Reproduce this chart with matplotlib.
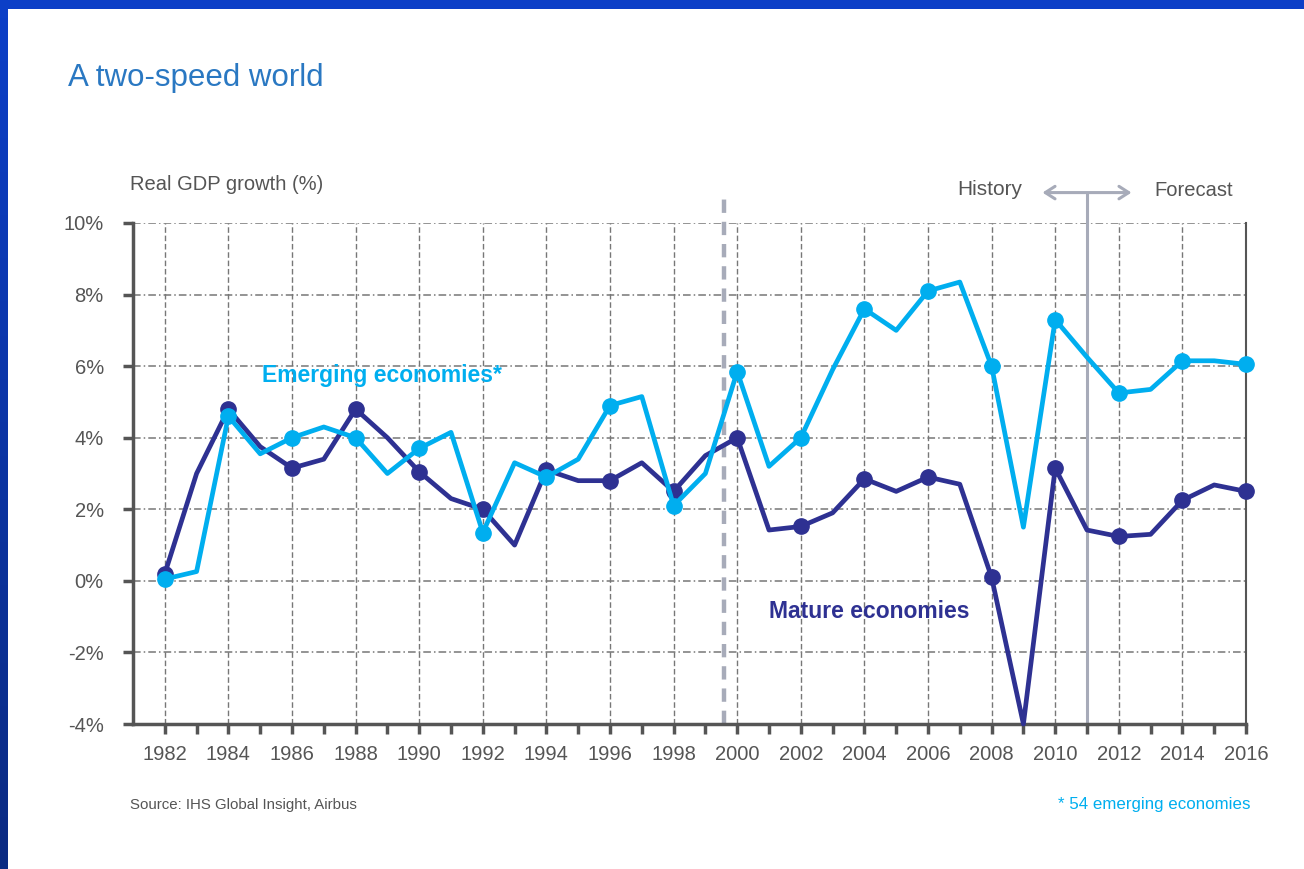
import numpy as np
import matplotlib
matplotlib.use('Agg')
import matplotlib.pyplot as plt
from matplotlib.patches import Rectangle


years = np.arange(1982, 2017)

mature = [0.2, 3.0, 4.8, 3.75, 3.15, 3.4, 4.8, 4.0, 3.05, 2.3, 2.0, 1.0,
          3.1, 2.8, 2.8, 3.3, 2.5, 3.5, 4.0, 1.42, 1.52, 1.9, 2.85, 2.5,
          2.9, 2.7, 0.1, -4.0, 3.15, 1.42, 1.24, 1.3, 2.25, 2.68, 2.5]

emerging = [0.05, 0.26, 4.6, 3.55, 4.0, 4.3, 4.0, 3.0, 3.7, 4.15, 1.35, 3.3,
            2.9, 3.4, 4.9, 5.15, 2.1, 3.0, 5.85, 3.2, 4.0, 5.9, 7.6, 7.0,
            8.1, 8.35, 6.0, 1.5, 7.3, 6.25, 5.25, 5.35, 6.15, 6.15, 6.05]

y_ticks = [-4, -2, 0, 2, 4, 6, 8, 10]
y_labels = ['-4%', '-2%', '0%', '2%', '4%', '6%', '8%', '10%']

navy = '#2e3192'
cyan = '#00aeef'
grey_line = '#a7abb9'
txt = '#555555'

plt.rcParams['font.family'] = ['Liberation Sans Narrow', 'Liberation Sans', 'DejaVu Sans']

fig = plt.figure(figsize=(13.04, 8.69), dpi=100)
fig.patch.set_facecolor('white')

# slide border (blue strip on top, gradient strip on the left)
fig.patches.append(Rectangle((0, 1 - 9/869), 1, 9/869, transform=fig.transFigure,
                             facecolor='#0c3fc7', edgecolor='none', zorder=0))
grad = np.linspace(0, 1, 100).reshape(-1, 1)
cax = fig.add_axes([0, 0, 8/1304, 1 - 9/869])
cax.imshow(grad, aspect='auto', cmap=matplotlib.colors.LinearSegmentedColormap.from_list(
    'b', ['#0c3fc7', '#0a2a82']), extent=[0, 1, 0, 1])
cax.axis('off')

ax = fig.add_axes([133/1304, (869-724)/869, (1246-133)/1304, (724-223)/869])
ax.set_xlim(1981, 2016)
ax.set_ylim(-4, 10)

# grid
for yy in y_ticks[1:]:
    ax.axhline(yy, color='#777777', lw=1.1, ls=(0, (5, 2, 1, 2)), zorder=1)
for xx in years[::2]:
    ax.axvline(xx, color='#777777', lw=1.0, ls=(0, (4, 2)), zorder=1)

# history / forecast separators
ax.plot([1999.6, 1999.6], [-4, 10.85], color=grey_line, lw=3.2, ls=(0, (3, 2)),
        clip_on=False, zorder=2)
ax.plot([2011, 2011], [-4, 10.85], color=grey_line, lw=2.2, clip_on=False, zorder=2)
ax.annotate('', xy=(2009.6, 10.85), xytext=(2012.4, 10.85),
            arrowprops=dict(arrowstyle='<->,head_length=0.7,head_width=0.45',
                            color=grey_line, lw=2.2, shrinkA=0, shrinkB=0),
            annotation_clip=False)
ax.text(2007.95, 10.95, 'History', fontsize=15, color=txt, ha='center', va='center')
ax.text(2014.35, 10.9, 'Forecast', fontsize=14.5, color=txt, ha='center', va='center')

# series
ax.plot(years, emerging, color=cyan, lw=3.4, marker='o', ms=11,
        markevery=slice(0, None, 2), zorder=4, clip_on=False)
ax.plot(years, mature, color=navy, lw=3.4, marker='o', ms=11,
        markevery=slice(0, None, 2), zorder=3, clip_on=False)

ax.text(1985.05, 5.75, 'Emerging economies*', fontsize=16.5, fontweight='bold',
        color=cyan, ha='left', va='center')
ax.text(2001.0, -0.87, 'Mature economies', fontsize=16.5, fontweight='bold',
        color=navy, ha='left', va='center')

# axes styling
ax.spines['top'].set_visible(False)
ax.spines['left'].set_color('#555555')
ax.spines['left'].set_linewidth(2.5)
ax.spines['bottom'].set_color('#555555')
ax.spines['bottom'].set_linewidth(2.5)
ax.spines['right'].set_color('#555555')
ax.spines['right'].set_linewidth(1.5)

ax.set_yticks(y_ticks)
ax.set_yticklabels(y_labels)
ax.set_xticks(years)
ax.set_xticklabels([str(y) if y % 2 == 0 else '' for y in years])
ax.tick_params(axis='both', direction='out', length=7, width=2.5, color='#555555',
               labelcolor=txt, labelsize=14.5)
ax.tick_params(axis='y', pad=14)
ax.tick_params(axis='x', pad=8)

# titles and notes
fig.text(68/1304, 1 - 78/869, 'A two-speed world', fontsize=22.5, color='#2a78c2',
         ha='left', va='center')
fig.text(130/1304, 1 - 185/869, 'Real GDP growth (%)', fontsize=14.5, color=txt,
         ha='left', va='center')
fig.text(130/1304, 1 - 805/869, 'Source: IHS Global Insight, Airbus', fontsize=10.8,
         color=txt, ha='left', va='center')
fig.text(1250/1304, 1 - 805/869, '* 54 emerging economies', fontsize=12.2,
         color=cyan, ha='right', va='center')

fig.savefig('out.png', dpi=100)
